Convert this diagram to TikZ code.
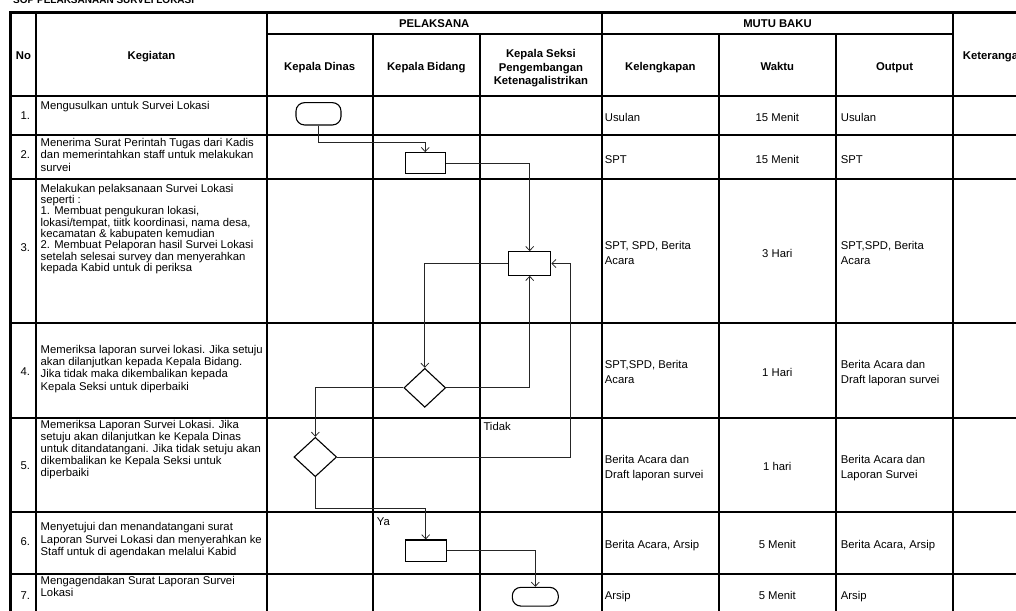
\documentclass[tikz,border=0pt]{standalone}
\usepackage{fontspec}
\setmainfont{Liberation Sans}
\usetikzlibrary{shapes.geometric,arrows.meta}
\begin{document}
\begin{tikzpicture}[x=1pt,y=-1pt,
  gridln/.style={line width=2pt},
  outerln/.style={line width=2.6pt},
  hd/.style={font=\bfseries\fontsize{11.3}{13.7}\selectfont, inner sep=0pt, text height=8.1pt, text depth=0pt},
  wk/.style={font=\fontsize{11.3}{13.7}\selectfont, inner sep=0pt, text height=8.1pt, text depth=0pt},
  kg/.style={font=\fontsize{11.3}{#1}\selectfont, inner sep=0pt, align=left, anchor=north west, execute at begin node={\rule{0pt}{9pt}}},
  proc/.style={draw, fill=white, line width=1.1pt, inner sep=0pt},
  term/.style={draw, fill=white, line width=1.1pt, inner sep=0pt, rounded corners=8.5pt},
  dec/.style={diamond, draw, fill=white, line width=1.1pt, inner sep=0pt},
  flow/.style={draw=black!85, line width=0.75pt, -{Straight Barb[length=4.2pt,width=8pt]}},
  lbl/.style={font=\fontsize{11.3}{13.7}\selectfont, inner sep=0pt, anchor=base west}
]
\useasboundingbox (0,0) rectangle (1016,610);
\clip (0,0) rectangle (1016,610);

% title (cut off at the top)
\node[font=\bfseries\fontsize{10}{12}\selectfont, anchor=base west, inner sep=0pt] (title) at (13,4) {SOP PELAKSANAAN SURVEI LOKASI};

% header texts
\node[hd] (hNo) at (23.5,55) {No};
\node[hd] (hKeg) at (151.5,55) {Kegiatan};
\node[hd] (hPel) at (434.2,23.3) {PELAKSANA};
\node[hd] (hMutu) at (777.5,23.3) {MUTU BAKU};
\node[hd] (hKD) at (319.7,66.5) {Kepala Dinas};
\node[hd] (hKB) at (426.3,66.5) {Kepala Bidang};
\node[hd] (hKS1) at (540.9,53.5) {Kepala Seksi};
\node[hd] (hKS2) at (540.9,67) {Pengembangan};
\node[hd] (hKS3) at (540.9,80.8) {Ketenagalistrikan};
\node[hd] (hKel) at (660.3,66.5) {Kelengkapan};
\node[hd] (hWak) at (777.3,66.5) {Waktu};
\node[hd] (hOut) at (894.5,66.5) {Output};
\node[hd, anchor=west] (hKet) at (962.7,55.3) {Keterangan};

% numbers
\node[kg=12] (n1) at (20.5,110.7) {1.};
\node[kg=12] (n2) at (20.5,149.3) {2.};
\node[kg=12] (n3) at (20.5,242) {3.};
\node[kg=12] (n4) at (20.5,366.7) {4.};
\node[kg=12] (n5) at (20.5,460.7) {5.};
\node[kg=12] (n6) at (20.5,536.7) {6.};
\node[kg=12] (n7) at (20.5,590) {7.};

% kegiatan
\node[kg=11.7] (k1) at (40.5,100) {Mengusulkan untuk Survei Lokasi};
\node[kg=12.2] (k2) at (40.5,138.3) {Menerima Surat Perintah Tugas dari Kadis\\dan memerintahkan staff untuk melakukan\\survei};
\node[kg=11.3] (k3) at (40.5,184) {Melakukan pelaksanaan Survei Lokasi\\seperti :\\1. Membuat pengukuran lokasi,\\lokasi/tempat, tiitk koordinasi, nama desa,\\kecamatan \& kabupaten kemudian\\2. Membuat Pelaporan hasil Survei Lokasi\\setelah selesai survey dan menyerahkan\\kepada Kabid untuk di periksa};
\node[kg=12.3] (k4) at (40.5,345) {Memeriksa laporan survei lokasi. Jika setuju\\akan dilanjutkan kepada Kepala Bidang.\\Jika tidak maka dikembalikan kepada\\Kepala Seksi untuk diperbaiki};
\node[kg=12.1] (k5) at (40.5,420) {Memeriksa Laporan Survei Lokasi. Jika\\setuju akan dilanjutkan ke Kepala Dinas\\untuk ditandatangani. Jika tidak setuju akan\\dikembalikan ke Kepala Seksi untuk\\diperbaiki};
\node[kg=12.7] (k6) at (40.5,522) {Menyetujui dan menandatangani surat\\Laporan Survei Lokasi dan menyerahkan ke\\Staff untuk di agendakan melalui Kabid};
\node[kg=12.6] (k7) at (40.5,575.7) {Mengagendakan Surat Laporan Survei\\Lokasi};

% kelengkapan
\node[kg=14.8] (l1) at (604.7,112.3) {Usulan};
\node[kg=14.8] (l2) at (604.7,154.3) {SPT};
\node[kg=14.8] (l3) at (604.7,241) {SPT, SPD, Berita\\Acara};
\node[kg=14.8] (l4) at (604.7,360) {SPT,SPD, Berita\\Acara};
\node[kg=14.8] (l5) at (604.7,455) {Berita Acara dan\\Draft laporan survei};
\node[kg=14.8] (l6) at (604.7,539.3) {Berita Acara, Arsip};
\node[kg=14.8] (l7) at (604.7,590.7) {Arsip};

% waktu
\node[wk] (w1) at (777.3,117.3) {15 Menit};
\node[wk] (w2) at (777.3,159.3) {15 Menit};
\node[wk] (w3) at (777.3,253.3) {3 Hari};
\node[wk] (w4) at (777.3,372.3) {1 Hari};
\node[wk] (w5) at (777.3,466.7) {1 hari};
\node[wk] (w6) at (777.3,544.3) {5 Menit};
\node[wk] (w7) at (777.3,595.7) {5 Menit};

% output
\node[kg=14.8] (o1) at (840.7,112.3) {Usulan};
\node[kg=14.8] (o2) at (840.7,154.3) {SPT};
\node[kg=14.8] (o3) at (840.7,241) {SPT,SPD, Berita\\Acara};
\node[kg=14.8] (o4) at (840.7,360) {Berita Acara dan\\Draft laporan survei};
\node[kg=14.8] (o5) at (840.7,455) {Berita Acara dan\\Laporan Survei};
\node[kg=14.8] (o6) at (840.7,539.3) {Berita Acara, Arsip};
\node[kg=14.8] (o7) at (840.7,590.7) {Arsip};

% grid
\draw[outerln] (10.7,640) -- (10.7,12.7) -- (1040,12.7);
\foreach \x in {36.3,266.7,601.7,953.3}
  \draw[gridln] (\x,12.7) -- (\x,640);
\foreach \x in {372.7,480,719,835.7}
  \draw[gridln] (\x,34.5) -- (\x,640);
\draw[gridln] (266.7,34.5) -- (953.3,34.5);
\foreach \y in {95.5,135,178.5,323,417.7,512,574}
  \draw[gridln] (10.7,\y) -- (1040,\y);

% flowchart shapes
\node[term, minimum width=45pt, minimum height=22.3pt] (start) at (318.5,113.8) {};
\node[proc, minimum width=40.3pt, minimum height=20.7pt] (box2) at (425.2,163) {};
\node[proc, minimum width=42pt, minimum height=23.6pt] (box3) at (529.7,263.5) {};
\node[dec, minimum width=41.7pt, minimum height=39pt] (dec4) at (424.8,387.8) {};
\node[dec, minimum width=42.7pt, minimum height=39.4pt] (dec5) at (315.3,457) {};
\node[proc, minimum width=40.7pt, minimum height=21.7pt] (box6) at (425.7,550.8) {};
\node[term, minimum width=46pt, minimum height=18.7pt] (end) at (535.3,596.7) {};

% connectors
\draw[flow] (start.south) -- ++(0,16.7) -| (box2.north);
\draw[flow] (box2.east) -| (box3.north);
\draw[flow] (box3.west) -| (dec4.north);
\draw[flow] (dec4.east) -| (box3.south);
\draw[flow] (dec4.west) -| (dec5.north);
\draw[flow] (dec5.east) -- ++(233,0) |- (box3.east);
\draw[flow] (dec5.south) -- ++(0,31.6) -| (box6.north);
\draw[flow] (box6.east) -| (end.north);

% labels
\node[lbl] (tidak) at (483.3,430.7) {Tidak};
\node[lbl] (ya) at (376.7,525.7) {Ya};
\end{tikzpicture}
\end{document}
